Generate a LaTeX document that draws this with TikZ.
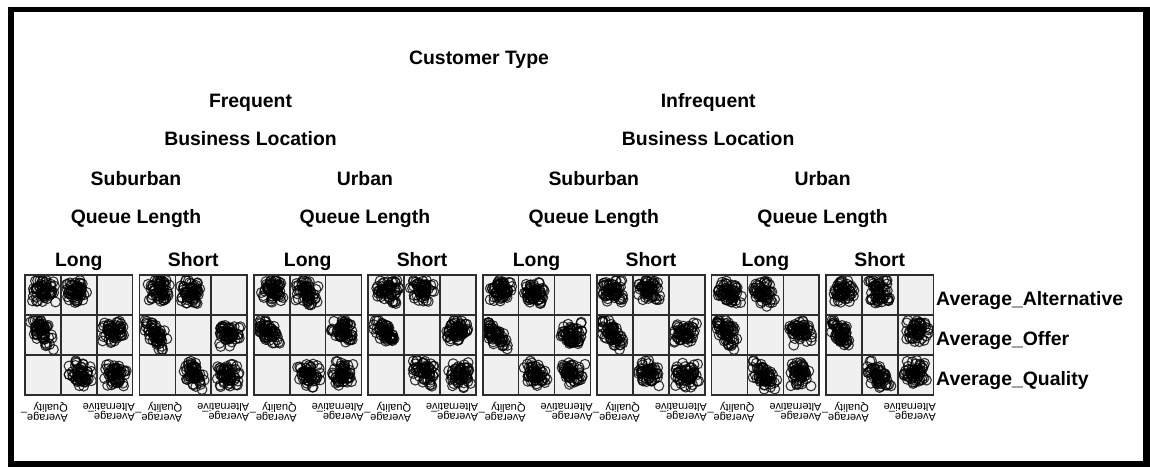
\documentclass[tikz,border=0pt]{standalone}
\usepackage{fontspec}
\setmainfont{Liberation Sans}

\definecolor{cellgray}{RGB}{240,240,240}
\definecolor{gridgray}{RGB}{45,45,45}

\tikzset{
  head/.style={font=\fontsize{19.4}{23}\selectfont\bfseries, anchor=base, inner sep=0pt},
  varlab/.style={font=\fontsize{19.4}{23}\selectfont\bfseries, anchor=base west, inner sep=0pt},
  axlab/.style={font=\fontsize{11}{10.5}\selectfont, align=left, rotate=180, anchor=west, inner sep=0pt},
  panelbg/.style={fill=cellgray},
  gridline/.style={draw=gridgray, line width=1.6pt},
  pt/.style={draw=black, draw opacity=0.8, line width=1.05pt},
}

% one cloud of open circles inside a cell: x0, y0, centre x, centre y, slope
\newcommand\clump[5]{%
  \foreach \n in {1,...,56}{%
    \pgfmathsetmacro\uu{rnd+rnd-1}%
    \pgfmathsetmacro\vv{rnd+rnd-1}%
    \pgfmathsetmacro\ptx{#1+max(5.5,min(30.5,#3+13*\uu))}%
    \pgfmathsetmacro\pty{#2+max(5.5,min(34.5,#4+14*\vv+#5*13*\uu))}%
    \draw[pt] (\ptx,\pty) circle[radius=4.9pt];
  }}

\begin{document}
\begin{tikzpicture}[x=1pt,y=-1pt]
\pgfmathsetseed{20231}
\useasboundingbox (0,0) rectangle (1150,467);
\fill[white] (0,0) rectangle (1150,467);
% frame
\fill[black] (8,7) rectangle (1150,467);
\fill[white] (14,12) rectangle (1143,461);

% scatter-matrix panels
\foreach \p in {0,...,7}{
  \pgfmathsetmacro\L{25+114.43*\p}
  \pgfmathsetmacro\ca{\L+35.87}
  \pgfmathsetmacro\cb{\L+71.73}
  \fill[panelbg] (\L,275) rectangle ++(107.6,120);
  % row 1: columns 1 and 2
  \pgfmathsetmacro\ja{17+5*(rnd-0.5)}\pgfmathsetmacro\jb{16+5*(rnd-0.5)}
  \clump{\L}{275}{\ja}{\jb}{0}
  \pgfmathsetmacro\ja{16+5*(rnd-0.5)}\pgfmathsetmacro\jb{16+5*(rnd-0.5)}
  \clump{\ca}{275}{\ja}{\jb}{0.2}
  % row 2: columns 1 and 3
  \pgfmathsetmacro\ja{15+4*(rnd-0.5)}\pgfmathsetmacro\jb{18+4*(rnd-0.5)}
  \clump{\L}{315}{\ja}{\jb}{0.8}
  \pgfmathsetmacro\ja{18+5*(rnd-0.5)}\pgfmathsetmacro\jb{17+5*(rnd-0.5)}
  \clump{\cb}{315}{\ja}{\jb}{0}
  % row 3: columns 2 and 3
  \pgfmathsetmacro\ja{18+5*(rnd-0.5)}\pgfmathsetmacro\jb{19+4*(rnd-0.5)}
  \clump{\ca}{355}{\ja}{\jb}{0.5}
  \pgfmathsetmacro\ja{18+5*(rnd-0.5)}\pgfmathsetmacro\jb{19+4*(rnd-0.5)}
  \clump{\cb}{355}{\ja}{\jb}{0}
  % grid
  \draw[gridline] (\L,275) rectangle ++(107.6,120);
  \draw[gridline] (\ca,275) -- (\ca,395) (\cb,275) -- (\cb,395)
                  (\L,315) -- ++(107.6,0) (\L,355) -- ++(107.6,0);
  % axis labels under the panel
  \node[axlab] (bq\p) at (\L+43,412) {Average\_\\Quality};
  \node[axlab] (ba\p) at (\L+110,412) {Average\_\\Alternative};
}

% headings
\node[head] (ctype) at (479,64) {Customer Type};
\node[head] (freq) at (250.5,107) {Frequent};
\node[head] (infreq) at (708.2,107) {Infrequent};
\node[head] (bloc1) at (250.5,145) {Business Location};
\node[head] (bloc2) at (708.2,145) {Business Location};
\foreach \x/\t [count=\k] in {136/Suburban,364.9/Urban,593.8/Suburban,822.6/Urban}{
  \node[head] (loc\k) at (\x,185) {\t};
  \node[head] (ql\k) at (\x,223) {Queue Length};
}
\foreach \p in {0,...,7}{
  \pgfmathsetmacro\cx{78.8+114.43*\p}
  \pgfmathtruncatemacro\odd{mod(\p,2)}
  \ifnum\odd=0
    \node[head] (len\p) at (\cx,266) {Long};
  \else
    \node[head] (len\p) at (\cx,266) {Short};
  \fi
}

% variable names on the right
\node[varlab] (valt) at (936,305) {Average\_Alternative};
\node[varlab] (voff) at (936,345) {Average\_Offer};
\node[varlab] (vqual) at (936,385) {Average\_Quality};
\end{tikzpicture}
\end{document}
